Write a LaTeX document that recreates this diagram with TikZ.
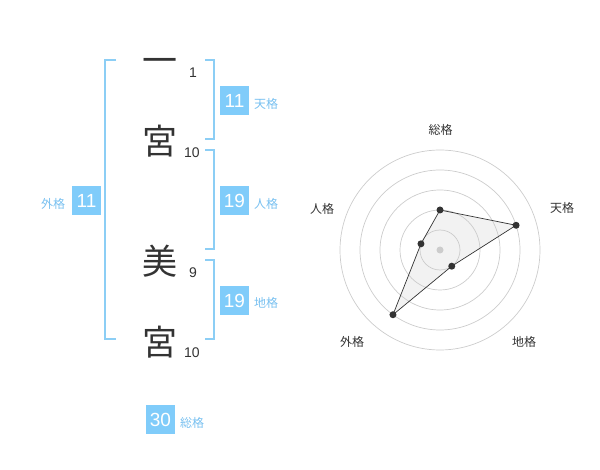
\documentclass[tikz,border=0pt]{standalone}
\usepackage{fontspec}
\setmainfont{Liberation Sans}
\newfontfamily\jp{Noto Sans CJK JP}
\definecolor{brk}{RGB}{140,206,245}
\definecolor{boxc}{RGB}{128,204,250}
\definecolor{lblc}{RGB}{120,192,240}
\definecolor{ink}{RGB}{51,51,51}
\definecolor{ringc}{RGB}{204,204,204}
\begin{document}
\begin{tikzpicture}[x=1pt,y=-1pt,
  bigch/.style={font=\jp\fontsize{35}{35}\selectfont, text=ink, inner sep=0pt},
  strk/.style={font=\fontsize{14}{14}\selectfont, text=ink, inner sep=0pt},
  valbox/.style={fill=boxc, text=white, minimum size=29pt, inner sep=0pt, font=\fontsize{19}{19}\selectfont},
  kaku/.style={font=\jp\fontsize{12}{12}\selectfont, text=lblc, inner sep=0pt},
  bracket/.style={draw=brk, line width=2pt},
  radlbl/.style={font=\jp\fontsize{12}{12}\selectfont, text=ink, inner sep=0pt},
  ring/.style={draw=ringc, line width=0.7pt},
  dot/.style={circle, fill=ink, inner sep=0pt, minimum size=7pt}]
\useasboundingbox (0,0) rectangle (600,470);
% characters
\node[bigch] (c1) at (160,66) {一};
\node[bigch] (c2) at (160,141) {宮};
\node[bigch] (c3) at (160,261) {美};
\node[bigch] (c4) at (160,342) {宮};
\node[strk] (n1) at (193,73) {1};
\node[strk] (n2) at (192,153) {10};
\node[strk] (n3) at (193,273) {9};
\node[strk] (n4) at (192,353) {10};
% brackets
\draw[bracket] (116,60) -- (105,60) -- (105,339) -- (116,339);
\draw[bracket] (205,60) -- (214,60) -- (214,139) -- (205,139);
\draw[bracket] (205,150) -- (214,150) -- (214,249) -- (205,249);
\draw[bracket] (205,260) -- (214,260) -- (214,339) -- (205,339);
% value boxes
\node[valbox] (ten) at (234.5,100.5) {11};
\node[kaku] (tenl) at (266,104) {天格};
\node[valbox] (jin) at (234.5,200.5) {19};
\node[kaku] (jinl) at (266,204) {人格};
\node[valbox] (chi) at (234.5,300.5) {19};
\node[kaku] (chil) at (266,303) {地格};
\node[valbox] (gai) at (86.5,200.5) {11};
\node[kaku] (gail) at (53,204) {外格};
\node[valbox] (sou) at (160.5,419.5) {30};
\node[kaku] (soul) at (192,423) {総格};
% radar
\begin{scope}[shift={(440,250)}]
  \coordinate (pS) at (-90:40);
  \coordinate (pT) at (-18:80);
  \coordinate (pC) at (54:20);
  \coordinate (pG) at (126:80);
  \coordinate (pJ) at (-162:20);
  \fill[gray!20, fill opacity=0.5] (pS) -- (pT) -- (pC) -- (pG) -- (pJ) -- cycle;
  \foreach \r in {20,40,60,80,100} \draw[ring] (0,0) circle[radius=\r];
  \fill[ringc] (0,0) circle[radius=3.5];
  \draw[ink, line width=0.7pt] (pS) -- (pT) -- (pC) -- (pG) -- (pJ) -- cycle;
  \foreach \p in {pS,pT,pC,pG,pJ} \node[dot] at (\p) {};
\end{scope}
\node[radlbl] (rS) at (440.5,130) {総格};
\node[radlbl] (rT) at (562,208) {天格};
\node[radlbl] (rC) at (524,342) {地格};
\node[radlbl] (rG) at (352,342) {外格};
\node[radlbl] (rJ) at (322,209) {人格};
\end{tikzpicture}
\end{document}
